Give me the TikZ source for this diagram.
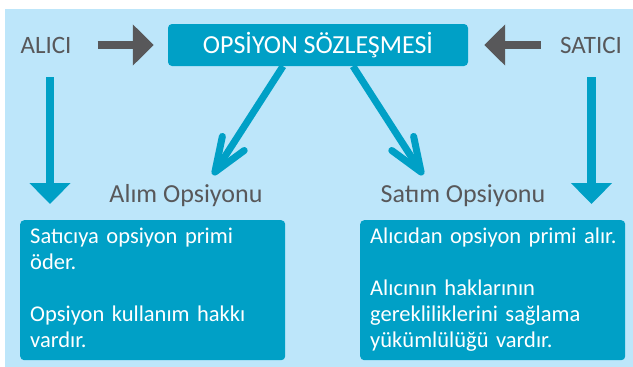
\documentclass[tikz,border=0pt]{standalone}
\usepackage{fontspec}
\setmainfont{Carlito}
\usetikzlibrary{arrows.meta,positioning,calc}
\definecolor{zemin}{RGB}{189,230,250}
\definecolor{turkuaz}{RGB}{0,160,198}
\definecolor{koyugri}{RGB}{88,88,90}
\tikzstyle{baslik} = [rectangle, fill=turkuaz, rounded corners=4pt, text=white,
    minimum width=300pt, minimum height=42pt, font=\fontsize{26}{30}\selectfont]
\tikzstyle{taraf} = [text=koyugri, inner sep=0pt, node distance=272pt,
    font=\fontsize{25}{30}\selectfont]
\tikzstyle{tur} = [text=koyugri, inner sep=0pt, anchor=base,
    font=\fontsize{26}{30}\selectfont]
\tikzstyle{kutu} = [rectangle, fill=turkuaz, rounded corners=4pt, text=white,
    text width=245pt, inner xsep=10pt, inner ysep=5pt, minimum height=140pt,
    align=left, anchor=north west, font=\fontsize{22.5}{26}\selectfont]
\tikzstyle{griok} = [draw=koyugri, line width=8.5pt, -{Triangle[length=21pt,width=40pt]}]
\tikzstyle{mavok} = [draw=turkuaz, line width=8.5pt, -{Triangle[length=21pt,width=40pt]}]
\tikzstyle{capraz} = [draw=turkuaz, line width=7pt, -{Straight Barb[length=34pt,width=26pt,round]}]

\begin{document}
\begin{tikzpicture}[x=1pt, y=-1pt]
    \useasboundingbox (0,0) rectangle (633,367);
    \fill[zemin] (5,9) rectangle (633,367);
    % Place nodes
    \node [baslik] (sozlesme) at (318,45) {OPSİYON SÖZLEŞMESİ};
    \node [taraf, left of=sozlesme] (alici) {ALICI};
    \node [taraf, right of=sozlesme, xshift=1pt] (satici) {SATICI};
    \node [tur] (alim) at (186,202) {Alım Opsiyonu};
    \node [tur] (satim) at (463,202) {Satım Opsiyonu};
    \node [kutu] (alimkutu) at (20,220) {\strut Satıcıya opsiyon primi\\ öder.\\[26pt]
        Opsiyon kullanım hakkı\\ vardır.\strut};
    \node [kutu] (satimkutu) at (360,220) {\strut\mbox{Alıcıdan opsiyon primi alır.}\\[26pt]
        Alıcının haklarının\\ gerekliliklerini sağlama\\ yükümlülüğü vardır.\strut};
    \coordinate (alicidip) at (50,77);
    \coordinate (saticidip) at (591.5,77);
    \coordinate (alimuc) at (213,175);
    \coordinate (satimuc) at (423,175);
    % Draw edges
    \path [griok, shorten <=26pt, shorten >=14pt] (sozlesme.west -| alici.east) -- (sozlesme.west);
    \path [griok, shorten <=19pt, shorten >=16pt] (sozlesme.east -| satici.west) -- (sozlesme.east);
    \path [mavok, shorten >=16pt] (alicidip) -- (alicidip |- alimkutu.north);
    \path [mavok, shorten >=16pt] (saticidip) -- (saticidip |- satimkutu.north);
    \path [capraz] ($(sozlesme.south)+(-35,0)$) -- (alimuc);
    \path [capraz] ($(sozlesme.south)+(35,0)$) -- (satimuc);
\end{tikzpicture}
\end{document}
